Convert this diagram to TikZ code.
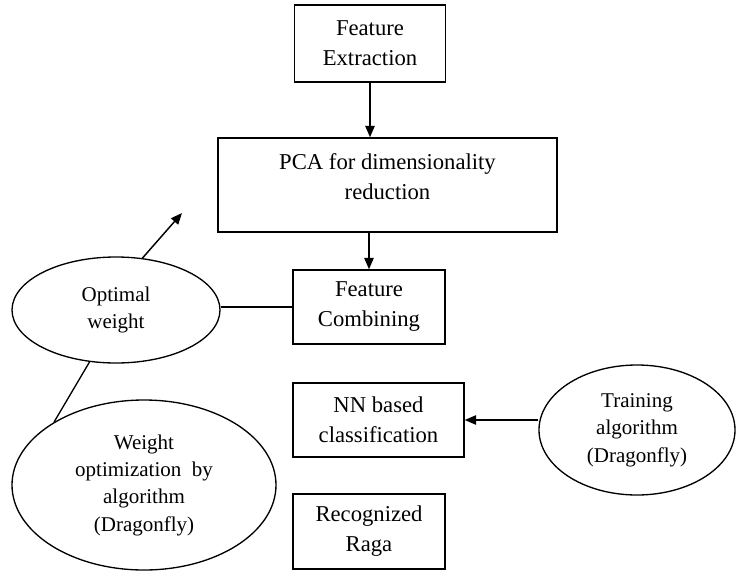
\documentclass[tikz,border=0pt]{standalone}
\usepackage{fontspec}
\setmainfont{Liberation Serif}
\usetikzlibrary{shapes.geometric,arrows.meta}

\begin{document}
\begin{tikzpicture}[x=0.75pt,y=-0.75pt,
	box/.style={rectangle,draw,line width=1.1pt,inner sep=0pt,align=center,font=\fontsize{17}{22.5}\selectfont},
	oval/.style={ellipse,draw,line width=1pt,inner sep=0pt,align=center,font=\fontsize{15.75}{20.5}\selectfont},
	arr/.style={line width=1.1pt,-{Triangle[length=8.5pt,width=7pt]}}]
	\useasboundingbox (0,0) rectangle (736,572);
	% boxes
	\node[box,minimum width=113.25pt,minimum height=57.75pt] (fext) at (370,43.5) {Feature\\Extraction};
	\node[box,minimum width=254.25pt,minimum height=70.5pt] (pca) at (387.5,185) {PCA for dimensionality\\reduction\\[-10pt]\mbox{}};
	\node[box,minimum width=114pt,minimum height=55.5pt] (fcomb) at (369,307) {Feature\\Combining};
	\node[box,minimum width=128.25pt,minimum height=55.5pt] (nn) at (378.5,420) {NN based\\classification};
	\node[box,minimum width=114pt,minimum height=56.25pt] (raga) at (369,531.5) {Recognized\\Raga};
	% ellipses
	\node[oval,minimum width=156pt,minimum height=79.5pt] (optw) at (116,310) {Optimal\\weight};
	\node[oval,minimum width=198pt,minimum height=127.5pt] (wopt) at (144,485) {Weight\\optimization\ \ by\\algorithm\\(Dragonfly)};
	\node[oval,minimum width=147pt,minimum height=97.5pt] (train) at (637,430) {Training\\algorithm\\(Dragonfly)};
	\coordinate (tip) at (182,213);
	% connectors
	\draw [arr] (fext.south) -- (fext.south |- pca.north);
	\draw [arr] (pca.south -| fcomb.north) -- (fcomb.north);
	\draw [arr] (nn.east -| train.west) -- (nn.east);
	\draw [arr] (optw.63) -- (tip);
	\draw [line width=1pt] (fcomb.west) -- (fcomb.west -| optw.east);
	\draw [line width=1pt] (wopt.145) -- (optw.243);
\end{tikzpicture}
\end{document}
